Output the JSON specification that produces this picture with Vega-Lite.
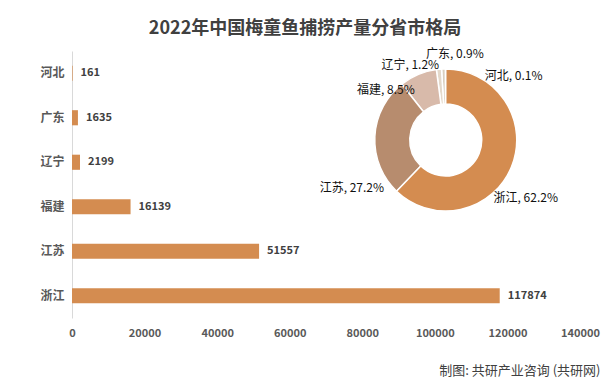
{
  "$schema": "https://vega.github.io/schema/vega-lite/v6.json",
  "width": 508,
  "height": 267,
  "autosize": {"type": "none"},
  "padding": {"left": 72, "top": 51, "right": 31, "bottom": 65},
  "background": "white",
  "title": {"text": "2022年中国梅童鱼捕捞产量分省市格局", "fontSize": 18, "fontWeight": "bold", "color": "#404040", "font": "Noto Sans CJK SC", "anchor": "middle", "frame": "group", "dx": -21, "offset": 10},
  "config": {"view": {"stroke": null}, "font": "Noto Sans CJK SC"},
  "data": {"values": [
    {"省份": "河北", "产量": 161, "占比": 0.1},
    {"省份": "广东", "产量": 1635, "占比": 0.9},
    {"省份": "辽宁", "产量": 2199, "占比": 1.2},
    {"省份": "福建", "产量": 16139, "占比": 8.5},
    {"省份": "江苏", "产量": 51557, "占比": 27.2},
    {"省份": "浙江", "产量": 117874, "占比": 62.2}
  ]},
  "transform": [{"calculate": "datum['省份'] + ', ' + format(datum['占比'], '.1f') + '%'", "as": "标签"}],
  "layer": [
    {
      "mark": {"type": "bar", "color": "#D48C50", "height": {"band": 0.34}},
      "encoding": {
        "y": {"field": "省份", "type": "nominal", "scale": {"domain": ["河北", "广东", "辽宁", "福建", "江苏", "浙江"], "paddingInner": 0, "paddingOuter": 0},
          "axis": {"title": null, "domainColor": "#D9D9D9", "ticks": false, "grid": false, "labelFontSize": 12, "labelFontWeight": "bold", "labelColor": "#595959", "labelPadding": 8}},
        "x": {"field": "产量", "type": "quantitative", "scale": {"domain": [0, 140000], "nice": false},
          "axis": {"title": "制图: 共研产业咨询 (共研网)", "domain": false, "ticks": false, "grid": false, "values": [0, 20000, 40000, 60000, 80000, 100000, 120000, 140000], "format": "d", "labelFlush": false, "labelFontSize": 11, "labelFontWeight": "bold", "labelColor": "#595959", "labelPadding": 9,
            "titleFontSize": 13, "titleFontWeight": "normal", "titleColor": "#404040", "titleX": 528, "titleAlign": "right", "titlePadding": 26}}
      }
    },
    {
      "mark": {"type": "text", "align": "left", "baseline": "middle", "dx": 8, "fontSize": 11, "fontWeight": "bold", "color": "#404040"},
      "encoding": {
        "y": {"field": "省份", "type": "nominal"},
        "x": {"field": "产量", "type": "quantitative"},
        "text": {"field": "产量", "type": "quantitative", "format": "d"}
      }
    },
    {
      "mark": {"type": "arc", "innerRadius": 36, "outerRadius": 71, "stroke": "white", "strokeWidth": 1.5},
      "encoding": {
        "x": {"datum": 103000, "type": "quantitative"},
        "y": {"datum": "广东", "type": "nominal", "bandPosition": 1},
        "theta": {"field": "产量", "type": "quantitative", "stack": true},
        "order": {"field": "产量", "type": "quantitative", "sort": "descending"},
        "color": {"field": "省份", "type": "nominal", "legend": null,
          "scale": {"domain": ["浙江", "江苏", "福建", "辽宁", "广东", "河北"], "range": ["#D48C50", "#B78C6E", "#D8BAAA", "#E4D9CB", "#D9CFC0", "#CDBFA8"]}}
      }
    },
    {
      "mark": {"type": "text", "radius": 96, "dx": -9, "dy": 22, "fontSize": 12, "color": "#111111", "align": "center", "baseline": "middle"},
      "encoding": {
        "x": {"datum": 103000, "type": "quantitative"},
        "y": {"datum": "广东", "type": "nominal", "bandPosition": 1},
        "theta": {"field": "产量", "type": "quantitative", "stack": true},
        "order": {"field": "产量", "type": "quantitative", "sort": "descending"},
        "text": {"condition": {"test": "datum['省份'] === '浙江'", "field": "标签", "type": "nominal"}, "value": ""}
      }
    },
    {
      "mark": {"type": "text", "radius": 95, "dx": 1, "dy": 53, "fontSize": 12, "color": "#111111", "align": "center", "baseline": "middle"},
      "encoding": {
        "x": {"datum": 103000, "type": "quantitative"},
        "y": {"datum": "广东", "type": "nominal", "bandPosition": 1},
        "theta": {"field": "产量", "type": "quantitative", "stack": true},
        "order": {"field": "产量", "type": "quantitative", "sort": "descending"},
        "text": {"condition": {"test": "datum['省份'] === '江苏'", "field": "标签", "type": "nominal"}, "value": ""}
      }
    },
    {
      "mark": {"type": "text", "radius": 69, "dx": -33, "dy": 14, "fontSize": 12, "color": "#111111", "align": "center", "baseline": "middle"},
      "encoding": {
        "x": {"datum": 103000, "type": "quantitative"},
        "y": {"datum": "广东", "type": "nominal", "bandPosition": 1},
        "theta": {"field": "产量", "type": "quantitative", "stack": true},
        "order": {"field": "产量", "type": "quantitative", "sort": "descending"},
        "text": {"condition": {"test": "datum['省份'] === '福建'", "field": "标签", "type": "nominal"}, "value": ""}
      }
    },
    {
      "mark": {"type": "text", "radius": 78, "dx": -28, "dy": 3, "fontSize": 12, "color": "#111111", "align": "center", "baseline": "middle"},
      "encoding": {
        "x": {"datum": 103000, "type": "quantitative"},
        "y": {"datum": "广东", "type": "nominal", "bandPosition": 1},
        "theta": {"field": "产量", "type": "quantitative", "stack": true},
        "order": {"field": "产量", "type": "quantitative", "sort": "descending"},
        "text": {"condition": {"test": "datum['省份'] === '辽宁'", "field": "标签", "type": "nominal"}, "value": ""}
      }
    },
    {
      "mark": {"type": "text", "radius": 86, "dx": 12, "dy": 0, "fontSize": 12, "color": "#111111", "align": "center", "baseline": "middle"},
      "encoding": {
        "x": {"datum": 103000, "type": "quantitative"},
        "y": {"datum": "广东", "type": "nominal", "bandPosition": 1},
        "theta": {"field": "产量", "type": "quantitative", "stack": true},
        "order": {"field": "产量", "type": "quantitative", "sort": "descending"},
        "text": {"condition": {"test": "datum['省份'] === '广东'", "field": "标签", "type": "nominal"}, "value": ""}
      }
    },
    {
      "mark": {"type": "text", "radius": 64, "dx": 68, "dy": 0, "fontSize": 12, "color": "#111111", "align": "center", "baseline": "middle"},
      "encoding": {
        "x": {"datum": 103000, "type": "quantitative"},
        "y": {"datum": "广东", "type": "nominal", "bandPosition": 1},
        "theta": {"field": "产量", "type": "quantitative", "stack": true},
        "order": {"field": "产量", "type": "quantitative", "sort": "descending"},
        "text": {"condition": {"test": "datum['省份'] === '河北'", "field": "标签", "type": "nominal"}, "value": ""}
      }
    }
  ]
}
